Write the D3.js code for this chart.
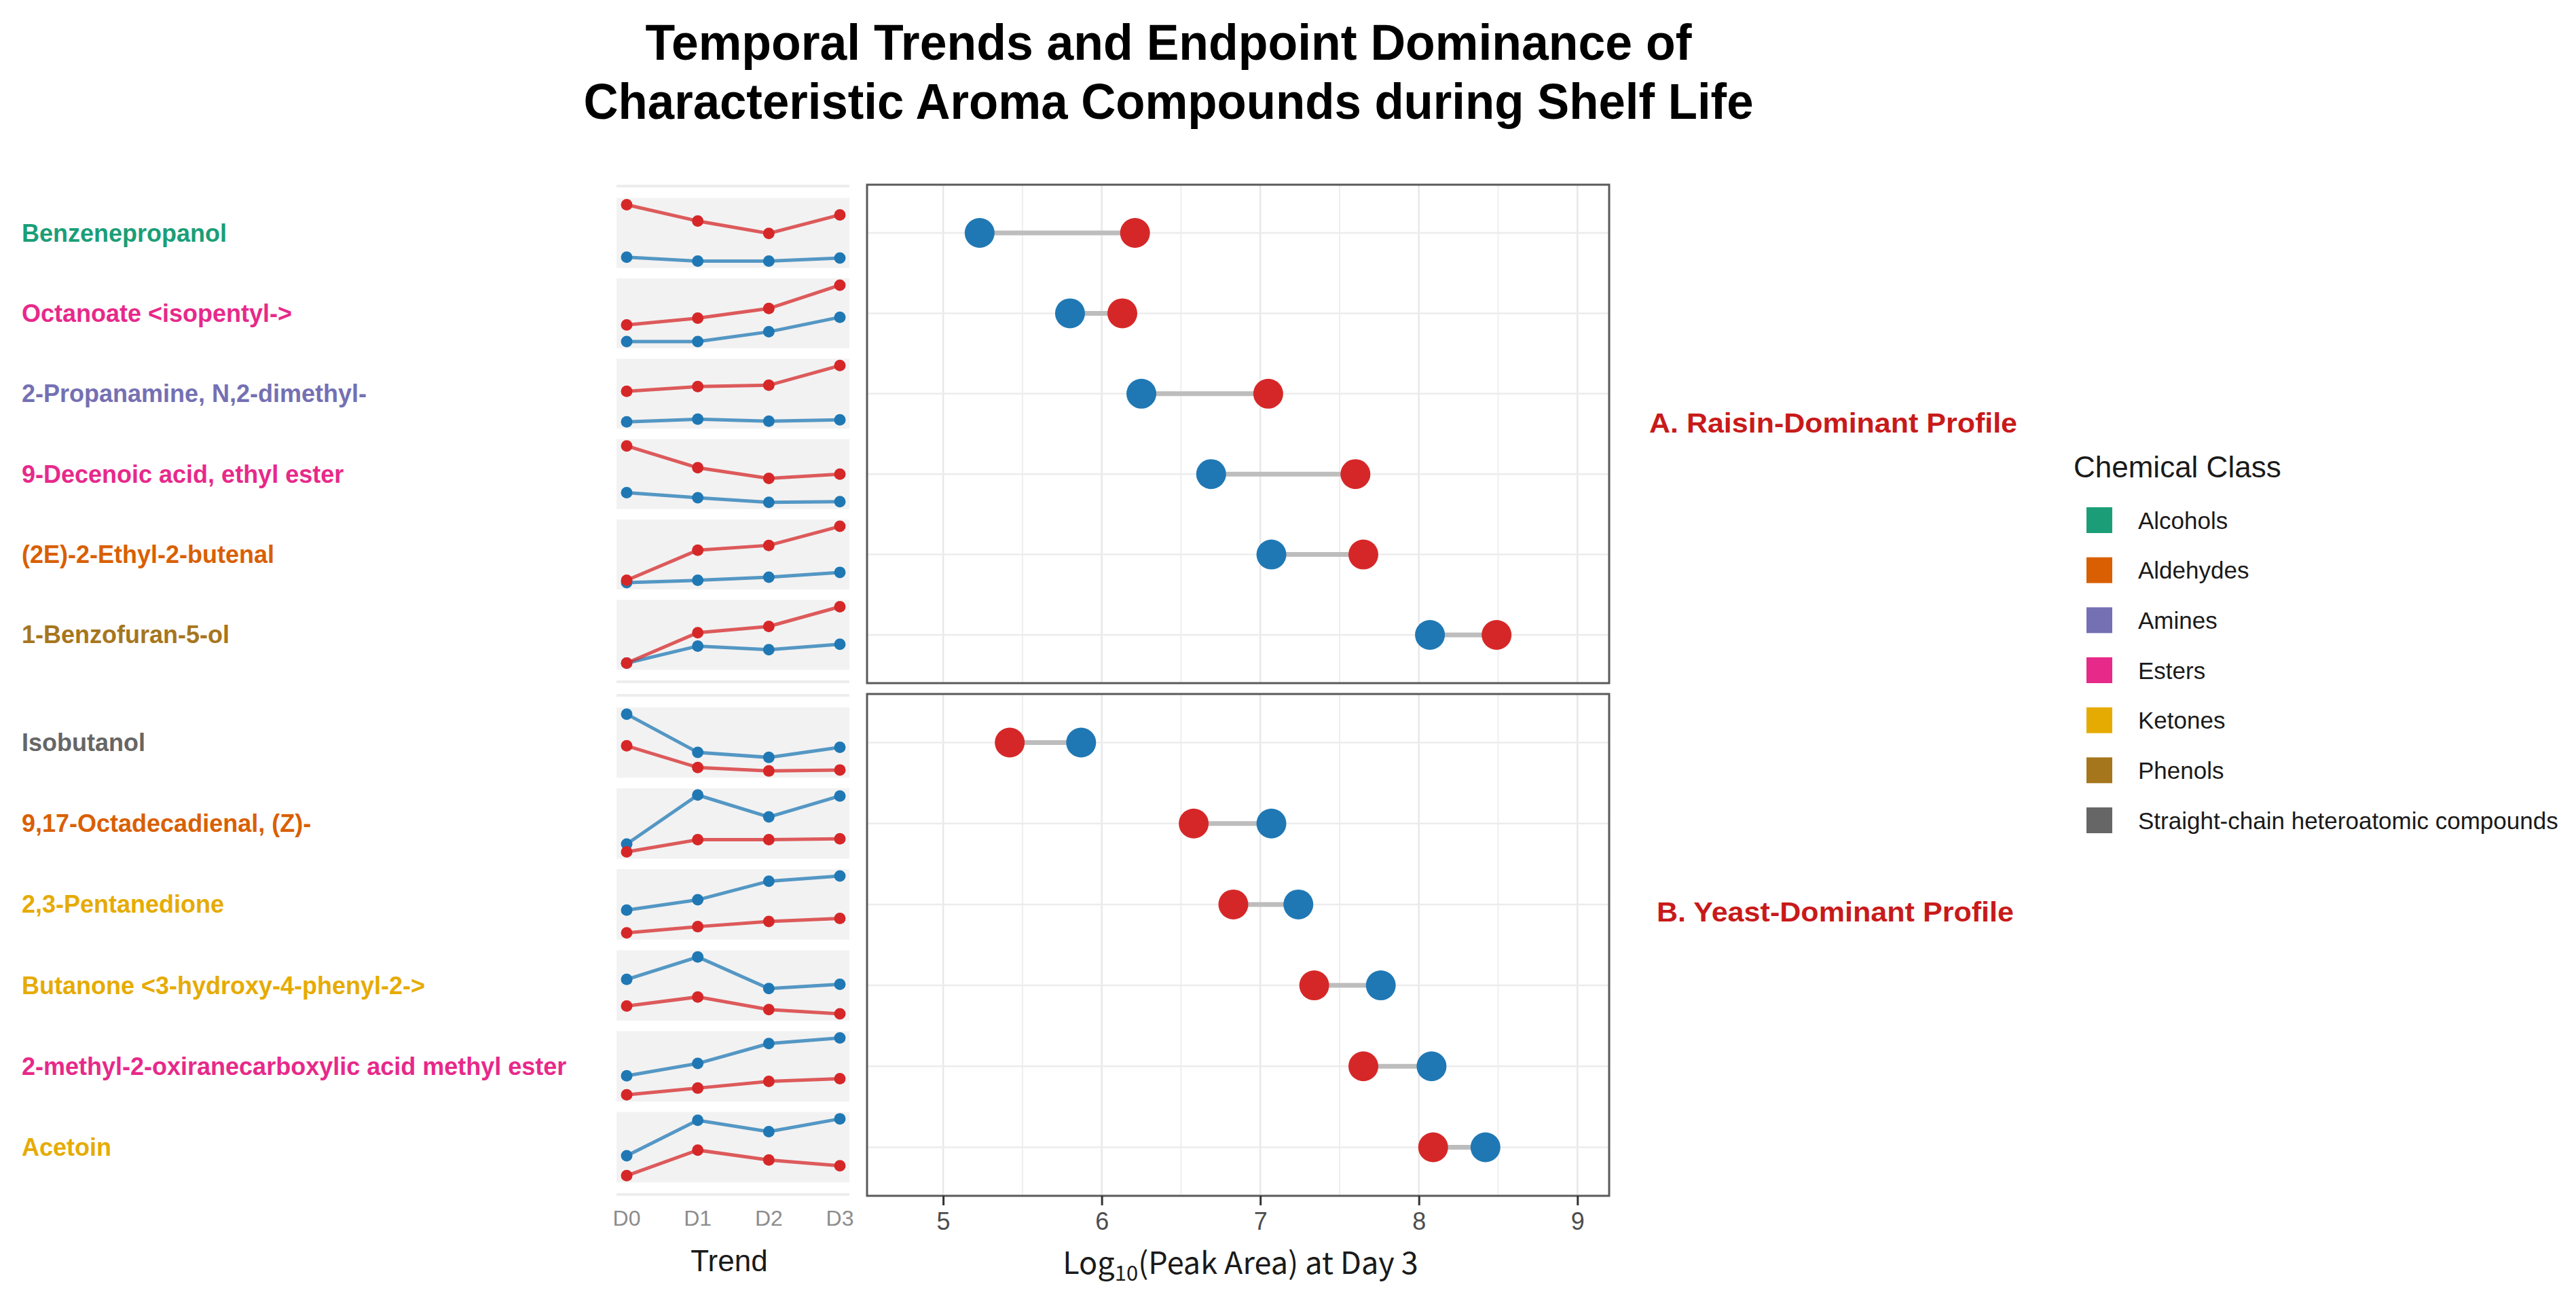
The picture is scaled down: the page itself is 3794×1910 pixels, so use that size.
<!DOCTYPE html>
<html>
<head>
<meta charset="utf-8">
<script src="https://cdn.jsdelivr.net/npm/d3@7"></script>
<style>
  body { margin: 0; background: #fff; }
  svg { display: block; }
</style>
</head>
<body>
<svg id="chart" width="3794" height="1910"></svg>
<script>
//////////////////////////////////////////////////////////////////////////////// DATA
var days = ["D0", "D1", "D2", "D3"];
var xTicks = [5, 6, 7, 8, 9];
var xMinor = [5.5, 6.5, 7.5, 8.5];

var classNames = ["Alcohols", "Aldehydes", "Amines", "Esters", "Ketones", "Phenols",
  "Straight-chain heteroatomic compounds"];
var classColors = ["#1b9e77", "#d95f02", "#7570b3", "#e7298a", "#e6ab02", "#a6761d", "#666666"];

// A. raisin dominant at day 3
var compoundsA = ["Benzenepropanol", "Octanoate <isopentyl->", "2-Propanamine, N,2-dimethyl-",
  "9-Decenoic acid, ethyl ester", "(2E)-2-Ethyl-2-butenal", "1-Benzofuran-5-ol"];
var classesA = ["Alcohols", "Esters", "Amines", "Esters", "Aldehydes", "Phenols"];
// log10 peak area, D0..D3
var raisinA = [
  [6.44, 6.07, 5.79, 6.21],
  [5.72, 5.79, 5.89, 6.13],
  [6.67, 6.74, 6.76, 7.05],
  [8.53, 7.81, 7.46, 7.60],
  [6.97, 7.35, 7.41, 7.65],
  [7.86, 8.20, 8.27, 8.49]
];
var yeastA = [
  [5.25, 5.16, 5.16, 5.23],
  [5.55, 5.55, 5.65, 5.80],
  [6.22, 6.26, 6.23, 6.25],
  [6.99, 6.82, 6.67, 6.69],
  [6.94, 6.97, 7.01, 7.07],
  [7.86, 8.05, 8.01, 8.07]
];

// B. yeast dominant at day 3
var compoundsB = ["Isobutanol", "9,17-Octadecadienal, (Z)-", "2,3-Pentanedione",
  "Butanone <3-hydroxy-4-phenyl-2->", "2-methyl-2-oxiranecarboxylic acid methyl ester", "Acetoin"];
var classesB = ["Straight-chain heteroatomic compounds", "Aldehydes", "Ketones", "Ketones", "Esters", "Ketones"];
var raisinB = [
  [5.90, 5.47, 5.40, 5.42],
  [6.43, 6.57, 6.57, 6.58],
  [6.69, 6.75, 6.80, 6.83],
  [7.45, 7.58, 7.40, 7.34],
  [7.48, 7.55, 7.62, 7.65],
  [8.02, 8.20, 8.13, 8.09]
];
var yeastB = [
  [6.53, 5.77, 5.67, 5.87],
  [6.52, 7.08, 6.83, 7.07],
  [6.91, 7.01, 7.19, 7.24],
  [7.83, 8.15, 7.70, 7.76],
  [7.68, 7.81, 8.02, 8.08],
  [8.16, 8.41, 8.33, 8.42]
];

//////////////////////////////////////////////////////////////////////////////// SETUP
var RED = "#d62728", BLUE = "#1f78b4";
var SANS = "'Liberation Sans', Arial, sans-serif";
var CJK = "'Noto Sans CJK SC', 'Noto Sans', sans-serif";

var svg = d3.select("#chart");
var classColor = d3.scaleOrdinal().domain(classNames).range(classColors);

var x = d3.scaleLinear().domain([4.52, 9.2]).range([1277, 2370]);
var dayX = d3.scalePoint().domain(days).range([923, 1237]);
var sparkLeft = 908, sparkRight = 1251;

var groups = [
  { names: compoundsA, classes: classesA, raisin: raisinA, yeast: yeastA, top: 272, bottom: 1006 },
  { names: compoundsB, classes: classesB, raisin: raisinB, yeast: yeastB, top: 1022, bottom: 1761 }
];

// Title
svg.append("text").attr("x", 1721).attr("y", 88).attr("text-anchor", "middle")
  .attr("textLength", 1541).attr("lengthAdjust", "spacingAndGlyphs")
  .style("font-family", SANS).style("font-weight", 700).style("font-size", "74px")
  .text("Temporal Trends and Endpoint Dominance of");
svg.append("text").attr("x", 1721).attr("y", 175).attr("text-anchor", "middle")
  .attr("textLength", 1723).attr("lengthAdjust", "spacingAndGlyphs")
  .style("font-family", SANS).style("font-weight", 700).style("font-size", "74px")
  .text("Characteristic Aroma Compounds during Shelf Life");

//////////////////////////////////////////////////////////////////////////////// PANELS
groups.forEach(function (g) {
  var y = d3.scalePoint().domain(g.names).range([g.top, g.bottom]).padding(0.6);
  var step = y.step();
  var half = step * 0.435;

  // dumbbell panel grid
  var panel = svg.append("g");
  panel.selectAll("line.vmin").data(xMinor).enter().append("line")
    .attr("x1", function (d) { return x(d); }).attr("x2", function (d) { return x(d); })
    .attr("y1", g.top).attr("y2", g.bottom)
    .attr("stroke", "#eeeeee").attr("stroke-width", 2);
  panel.selectAll("line.vmaj").data(xTicks).enter().append("line")
    .attr("x1", function (d) { return x(d); }).attr("x2", function (d) { return x(d); })
    .attr("y1", g.top).attr("y2", g.bottom)
    .attr("stroke", "#e8e8e8").attr("stroke-width", 2.5);
  panel.selectAll("line.h").data(g.names).enter().append("line")
    .attr("x1", x.range()[0]).attr("x2", x.range()[1])
    .attr("y1", function (d) { return y(d); }).attr("y2", function (d) { return y(d); })
    .attr("stroke", "#ececec").attr("stroke-width", 2.5);

  // dumbbells: day-3 values
  var rows = g.names.map(function (n, i) {
    return { name: n, raisin: g.raisin[i][3], yeast: g.yeast[i][3] };
  });
  panel.selectAll("line.seg").data(rows).enter().append("line")
    .attr("x1", function (d) { return x(d.raisin); }).attr("x2", function (d) { return x(d.yeast); })
    .attr("y1", function (d) { return y(d.name); }).attr("y2", function (d) { return y(d.name); })
    .attr("stroke", "#bdbdbd").attr("stroke-width", 7);
  panel.selectAll("circle.r").data(rows).enter().append("circle")
    .attr("cx", function (d) { return x(d.raisin); }).attr("cy", function (d) { return y(d.name); })
    .attr("r", 22).attr("fill", RED);
  panel.selectAll("circle.y").data(rows).enter().append("circle")
    .attr("cx", function (d) { return x(d.yeast); }).attr("cy", function (d) { return y(d.name); })
    .attr("r", 22).attr("fill", BLUE);

  panel.append("rect").attr("x", x.range()[0]).attr("y", g.top)
    .attr("width", x.range()[1] - x.range()[0]).attr("height", g.bottom - g.top)
    .attr("fill", "none").attr("stroke", "#5a5a5a").attr("stroke-width", 3);

  // compound labels
  svg.selectAll(null).data(g.names).enter().append("text")
    .attr("x", 32).attr("y", function (d) { return y(d); })
    .attr("dominant-baseline", "central")
    .style("font-family", SANS).style("font-weight", 700).style("font-size", "36px")
    .attr("fill", function (d, i) { return classColor(g.classes[i]); })
    .text(function (d) { return d; });

  // sparkline column: thin strips at the edges
  [g.top, g.bottom - 4].forEach(function (sy) {
    svg.append("rect").attr("x", sparkLeft).attr("y", sy)
      .attr("width", sparkRight - sparkLeft).attr("height", 4).attr("fill", "#ededed");
  });

  g.names.forEach(function (n, i) {
    var cy = y(n);
    var sg = svg.append("g");
    sg.append("rect").attr("x", sparkLeft).attr("y", cy - half)
      .attr("width", sparkRight - sparkLeft).attr("height", half * 2).attr("fill", "#f2f2f2");
    var sy = d3.scaleLinear()
      .domain(d3.extent(g.raisin[i].concat(g.yeast[i])))
      .range([cy + half - 10, cy - half + 10]);
    var line = d3.line()
      .x(function (d, k) { return dayX(days[k]); })
      .y(function (d) { return sy(d); });
    [[g.yeast[i], BLUE], [g.raisin[i], RED]].forEach(function (s) {
      sg.append("path").datum(s[0]).attr("d", line)
        .attr("fill", "none").attr("stroke", s[1]).attr("stroke-width", 5)
        .attr("stroke-opacity", 0.75);
      sg.selectAll(null).data(s[0]).enter().append("circle")
        .attr("cx", function (d, k) { return dayX(days[k]); })
        .attr("cy", function (d) { return sy(d); })
        .attr("r", 8.5).attr("fill", s[1]);
    });
  });
});

//////////////////////////////////////////////////////////////////////////////// AXES
var axisY = groups[1].bottom;
var xAxis = d3.axisBottom(x).tickValues(xTicks).tickSize(14).tickPadding(10).tickFormat(d3.format("d"));
var ax = svg.append("g").attr("transform", "translate(0," + axisY + ")").call(xAxis);
ax.select(".domain").remove();
ax.selectAll(".tick line").attr("stroke", "#333").attr("stroke-width", 3);
ax.selectAll(".tick text").attr("fill", "#4d4d4d")
  .style("font-family", SANS).style("font-size", "36px");

var title = svg.append("text").attr("x", 1827).attr("y", 1876).attr("text-anchor", "middle")
  .style("font-family", CJK).style("font-size", "45px").attr("fill", "#1a1a1a");
title.append("tspan").text("Log");
title.append("tspan").attr("dy", 10).style("font-size", "31px").text("10");
title.append("tspan").attr("dy", -10).text("(Peak Area) at Day 3");

svg.selectAll(null).data(days).enter().append("text")
  .attr("x", function (d) { return dayX(d); }).attr("y", 1805)
  .attr("text-anchor", "middle").attr("fill", "#8c8c8c")
  .style("font-family", SANS).style("font-size", "32px")
  .text(function (d) { return d; });
svg.append("text").attr("x", 1074).attr("y", 1872).attr("text-anchor", "middle")
  .attr("fill", "#1a1a1a").style("font-family", SANS).style("font-size", "44px").text("Trend");

//////////////////////////////////////////////////////////////////////////////// ANNOTATIONS
svg.append("text").attr("x", 2429).attr("y", 637)
  .attr("textLength", 542).attr("lengthAdjust", "spacingAndGlyphs")
  .attr("fill", "#c81a1a").style("font-family", SANS).style("font-weight", 700).style("font-size", "41px")
  .text("A. Raisin-Dominant Profile");
svg.append("text").attr("x", 2440).attr("y", 1357)
  .attr("textLength", 526).attr("lengthAdjust", "spacingAndGlyphs")
  .attr("fill", "#c81a1a").style("font-family", SANS).style("font-weight", 700).style("font-size", "41px")
  .text("B. Yeast-Dominant Profile");

//////////////////////////////////////////////////////////////////////////////// LEGEND
var legend = svg.append("g");
legend.append("text").attr("x", 3054).attr("y", 703).attr("fill", "#1a1a1a")
  .style("font-family", SANS).style("font-size", "44px").text("Chemical Class");
var ly = d3.scalePoint().domain(classNames).range([766, 1208]);
legend.selectAll("rect").data(classNames).enter().append("rect")
  .attr("x", 3073).attr("y", function (d) { return ly(d) - 19; })
  .attr("width", 38).attr("height", 38)
  .attr("fill", function (d) { return classColor(d); });
legend.selectAll("text.item").data(classNames).enter().append("text")
  .attr("class", "item").attr("x", 3149).attr("y", function (d) { return ly(d); })
  .attr("dominant-baseline", "central").attr("fill", "#1a1a1a")
  .style("font-family", SANS).style("font-size", "35px")
  .text(function (d) { return d; });
</script>
</body>
</html>
